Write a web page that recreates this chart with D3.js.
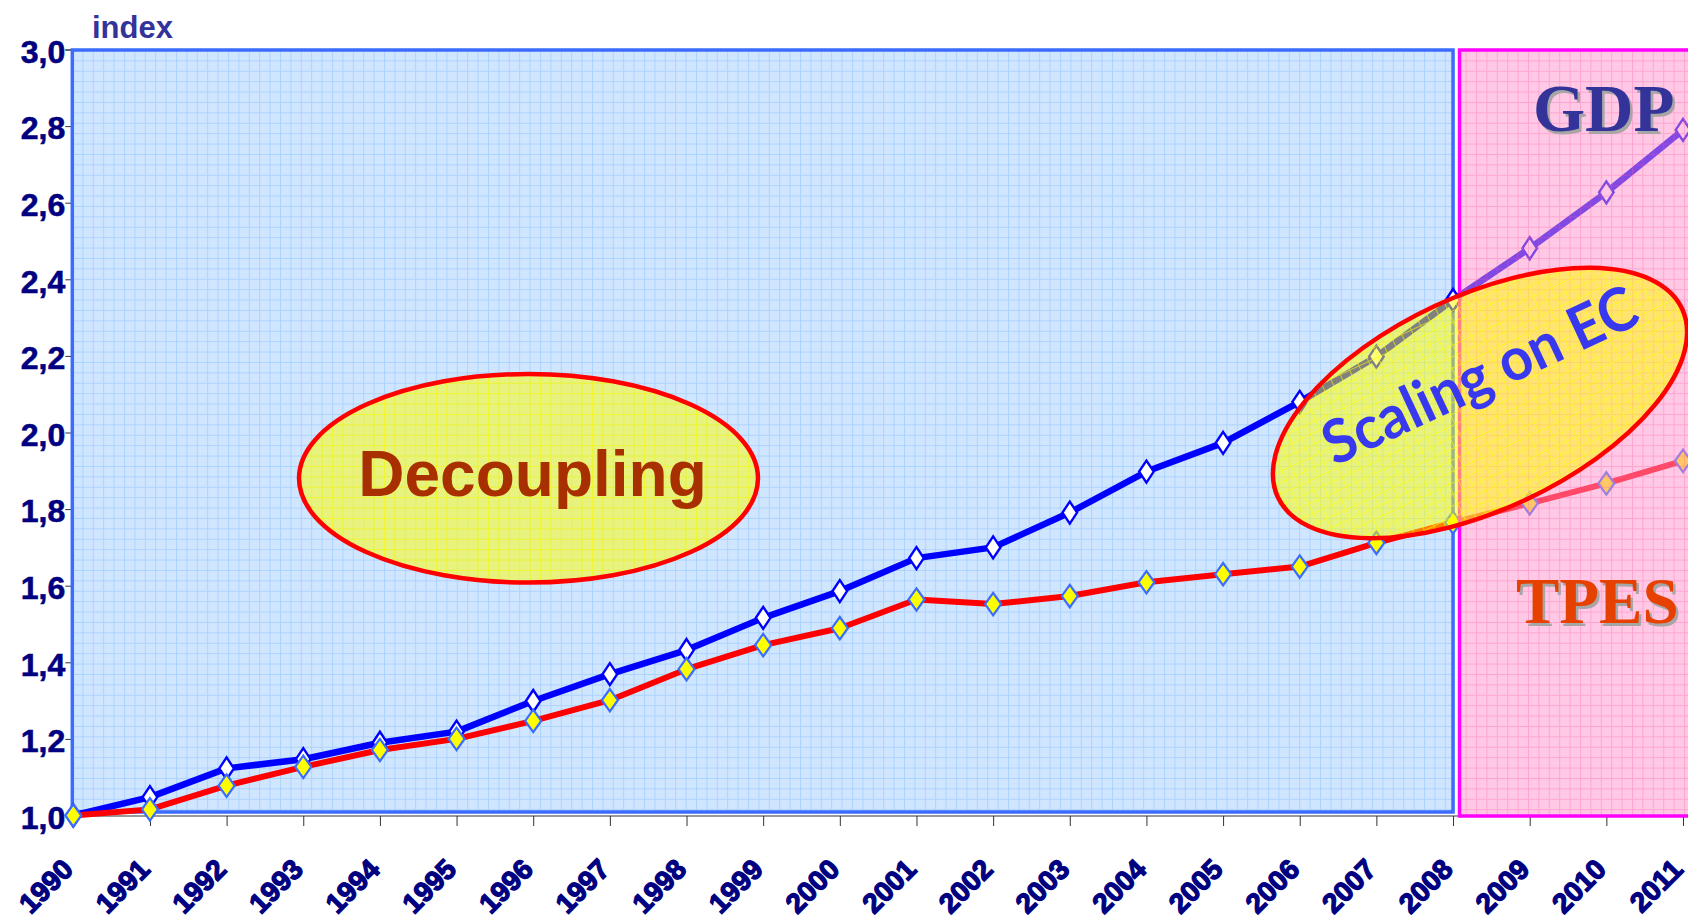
<!DOCTYPE html>
<html>
<head>
<meta charset="utf-8">
<script src="https://cdn.jsdelivr.net/npm/d3@7"></script>
<style>
  body { margin: 0; background: #ffffff; }
  #graph { width: 1688px; height: 920px; overflow: hidden; }
</style>
</head>
<body>
<div id="graph"></div>
<script>
const years = [1990, 1991, 1992, 1993, 1994, 1995, 1996, 1997, 1998, 1999, 2000,
               2001, 2002, 2003, 2004, 2005, 2006, 2007, 2008, 2009, 2010, 2011]
const gdp  = [1.000, 1.048, 1.123, 1.147, 1.190, 1.219, 1.299, 1.369, 1.432, 1.516, 1.586,
              1.672, 1.700, 1.791, 1.898, 1.973, 2.080, 2.198, 2.346, 2.481, 2.627, 2.790]
const tpes = [1.000, 1.016, 1.078, 1.127, 1.171, 1.200, 1.247, 1.301, 1.382, 1.445, 1.489,
              1.564, 1.552, 1.573, 1.609, 1.630, 1.650, 1.712, 1.765, 1.815, 1.867, 1.926]
const yTicks = [1.0, 1.2, 1.4, 1.6, 1.8, 2.0, 2.2, 2.4, 2.6, 2.8, 3.0]
const splitYear = 2008

const width = 1688
const height = 920
const marginTop = 49.5
const marginLeft = 73.3
const plotBottom = 815.5
const plotRight = 1683

const navy = "#000080"
const cell = 10.4

const xScale = d3.scaleLinear()
                 .domain([years[0], years[years.length - 1]])
                 .range([marginLeft, plotRight])

const yScale = d3.scaleLinear()
                 .domain([1, 3])
                 .range([plotBottom, marginTop])

const svg = d3.create("svg")
              .attr("width", width)
              .attr("height", height)
              .attr("viewBox", `0 0 ${width} ${height}`)

// graph paper patterns
const defs = svg.append("defs")
const makeGrid = (id, bg, line, bgOpacity, lineOpacity) => {
   const p = defs.append("pattern")
                 .attr("id", id)
                 .attr("patternUnits", "userSpaceOnUse")
                 .attr("x", 72).attr("y", 50)
                 .attr("width", cell).attr("height", cell)
   p.append("rect")
    .attr("width", cell).attr("height", cell)
    .attr("fill", bg).attr("fill-opacity", bgOpacity)
   p.append("path")
    .attr("d", `M0,0.5H${cell}M0.5,0V${cell}`)
    .attr("stroke", line).attr("stroke-opacity", lineOpacity)
    .attr("stroke-width", 1).attr("fill", "none")
}
makeGrid("blueGrid", "#d0e6ff", "#a6cfff", 1, 0.85)
makeGrid("pinkGrid", "#ff91c9", "#ff4fa8", 0.5, 0.3)
makeGrid("yellowGrid", "#ffff00", "#ffff00", 0.5, 0.6)

const x0 = xScale(years[0])
const xSplit = xScale(splitYear)

// axes
const xAxis = d3.axisBottom(xScale)
                .tickValues(years)
                .tickSize(10)
                .tickFormat(d3.format("d"))

const yAxis = d3.axisLeft(yScale)
                .tickValues(yTicks)
                .tickSize(7)
                .tickPadding(0)
                .tickFormat(d => d3.format(".1f")(d).replace(".", ","))

svg.append("g")
   .attr("id", "x-axis")
   .attr("transform", `translate(0, ${plotBottom + 0.5})`)
   .call(xAxis)
   .call(g => g.select(".domain").attr("d", `M${x0 - 1},0H${width}`).attr("stroke", "#333"))
   .call(g => g.selectAll(".tick line").attr("stroke", "#333"))
   .call(g => g.selectAll("text")
               .attr("x", 0).attr("y", 0).attr("dy", null)
               .attr("text-anchor", "end")
               .attr("transform", "translate(1, 55) rotate(-45)")
               .attr("fill", navy)
               .attr("stroke", navy)
               .attr("stroke-width", 1.3)
               .attr("font-family", "'Liberation Sans', Arial, sans-serif")
               .attr("font-weight", "bold")
               .attr("font-size", 28))

svg.append("g")
   .attr("id", "y-axis")
   .attr("transform", `translate(${x0 - 1}, 0)`)
   .call(yAxis)
   .call(g => g.select(".domain").attr("stroke", "#333"))
   .call(g => g.selectAll(".tick line").attr("stroke", "#333"))
   .call(g => g.selectAll("text")
               .attr("dy", "0.4em")
               .attr("fill", navy)
               .attr("stroke", navy)
               .attr("stroke-width", 0.6)
               .attr("font-family", "'Liberation Sans', Arial, sans-serif")
               .attr("font-weight", "bold")
               .attr("font-size", 32))

svg.append("text")
   .attr("x", 92)
   .attr("y", 38)
   .attr("fill", "#333399")
   .attr("font-family", "'Liberation Sans', Arial, sans-serif")
   .attr("font-weight", "bold")
   .attr("font-size", 31)
   .text("index")

// historic period box
svg.append("rect")
   .attr("x", x0 - 1)
   .attr("y", marginTop + 0.5)
   .attr("width", xSplit - x0 + 1)
   .attr("height", plotBottom - marginTop - 4)
   .attr("fill", "url(#blueGrid)")
   .attr("stroke", "#3b6cff")
   .attr("stroke-width", 3.5)

// series
const gdpData = years.map((y, i) => ({ year: y, value: gdp[i] }))
const tpesData = years.map((y, i) => ({ year: y, value: tpes[i] }))

const line = d3.line()
               .x(d => xScale(d.year))
               .y(d => yScale(d.value))

const diamond = (w, h) => `M0,${-h}L${w},0L0,${h}L${-w},0Z`

svg.append("path")
   .datum(gdpData)
   .attr("d", line)
   .attr("fill", "none")
   .attr("stroke", "#0000ff")
   .attr("stroke-width", 6.5)
   .attr("stroke-linejoin", "round")

svg.append("g")
   .selectAll("path")
   .data(gdpData)
   .join("path")
   .attr("d", diamond(7.3, 11))
   .attr("transform", d => `translate(${xScale(d.year)}, ${yScale(d.value)})`)
   .attr("fill", "#ffffff")
   .attr("stroke", "#0000ff")
   .attr("stroke-width", 2.4)

svg.append("path")
   .datum(tpesData)
   .attr("d", line)
   .attr("fill", "none")
   .attr("stroke", "#ff0000")
   .attr("stroke-width", 6)
   .attr("stroke-linejoin", "round")

svg.append("g")
   .selectAll("path")
   .data(tpesData)
   .join("path")
   .attr("d", diamond(8, 11.2))
   .attr("transform", d => `translate(${xScale(d.year)}, ${yScale(d.value)})`)
   .attr("fill", "#ffff00")
   .attr("stroke", "#3a6cff")
   .attr("stroke-width", 2.2)

// forecast period overlay
svg.append("rect")
   .attr("x", xSplit + 6.5)
   .attr("y", marginTop + 0.5)
   .attr("width", width - xSplit)
   .attr("height", plotBottom - marginTop)
   .attr("fill", "url(#pinkGrid)")
   .attr("stroke", "#ff00ff")
   .attr("stroke-width", 3.5)

// annotations
const annot = svg.append("g")

annot.append("ellipse")
     .attr("cx", 528.5).attr("cy", 478.3)
     .attr("rx", 229.5).attr("ry", 104.3)
     .attr("fill", "url(#yellowGrid)")
     .attr("stroke", "#ff0000")
     .attr("stroke-width", 4.5)

annot.append("text")
     .attr("x", 532.5)
     .attr("y", 496)
     .attr("text-anchor", "middle")
     .attr("fill", "#a83000")
     .attr("font-family", "'Liberation Sans', Arial, sans-serif")
     .attr("font-weight", "bold")
     .attr("font-size", 64)
     .text("Decoupling")

annot.append("ellipse")
     .attr("transform", "translate(1480, 403) rotate(-25)")
     .attr("rx", 223).attr("ry", 107)
     .attr("fill", "url(#yellowGrid)")
     .attr("stroke", "#ff0000")
     .attr("stroke-width", 4.5)

annot.append("text")
     .attr("transform", "translate(1481, 378) rotate(-25)")
     .attr("text-anchor", "middle")
     .attr("dy", "0.3em")
     .attr("textLength", 340)
     .attr("lengthAdjust", "spacingAndGlyphs")
     .attr("fill", "#3838ee")
     .attr("font-family", "Lato, 'Open Sans', sans-serif")
     .attr("font-weight", "bold")
     .attr("font-size", 60)
     .text("Scaling on EC")

const seriesLabel = (text, xPos, yPos, size, color) => {
   annot.append("text")
        .attr("x", xPos + 2.5).attr("y", yPos + 2.5)
        .attr("fill", "#a6a6a6")
        .attr("font-family", "'Liberation Serif', 'Times New Roman', serif")
        .attr("font-weight", "bold")
        .attr("font-size", size)
        .text(text)
   annot.append("text")
        .attr("x", xPos).attr("y", yPos)
        .attr("fill", color)
        .attr("font-family", "'Liberation Serif', 'Times New Roman', serif")
        .attr("font-weight", "bold")
        .attr("font-size", size)
        .text(text)
}
seriesLabel("GDP", 1533, 131, 67, "#333399")
seriesLabel("TPES", 1516, 623, 65, "#e64100")

graph.append(svg.node())
</script>
</body>
</html>
